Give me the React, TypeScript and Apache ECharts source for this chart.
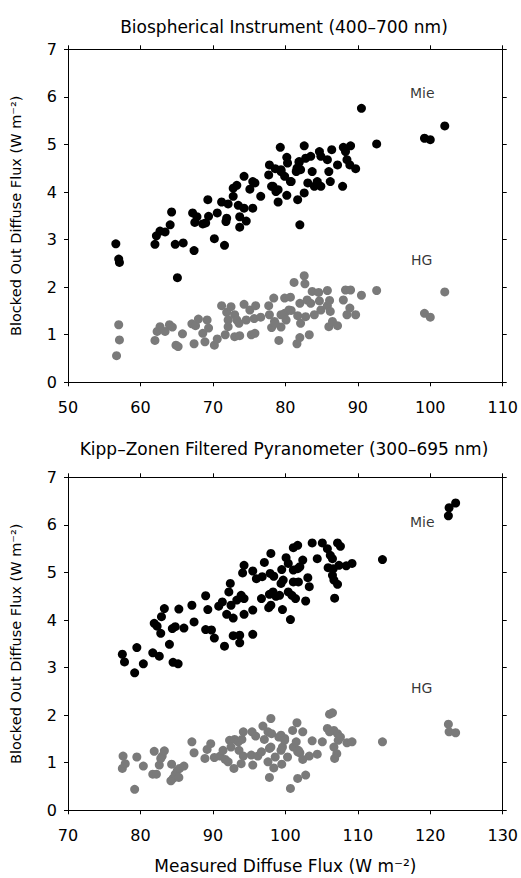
import { useEffect, useRef } from 'react';
import * as echarts from 'echarts';

const FONT = 'DejaVu Sans';

const titles = ['Biospherical Instrument (400–700 nm)', 'Kipp–Zonen Filtered Pyranometer (300–695 nm)'];
const yName = 'Blocked Out Diffuse Flux (W m⁻²)';
const xName = 'Measured Diffuse Flux (W m⁻²)';
const topXRange = [50, 110];
const bottomXRange = [70, 130];
const yRange = [0, 7];

const bioMie: number[][] = [
  [56.6, 2.91], [57.0, 2.59], [57.1, 2.52], [62.0, 2.90], [62.2, 3.08], [62.7, 3.18], [63.4, 3.16], [64.1, 3.31],
  [64.3, 3.58], [64.8, 2.90], [65.1, 2.20], [65.9, 2.93], [67.2, 3.56], [67.4, 2.77], [67.5, 3.36], [67.8, 3.48],
  [68.6, 3.33], [69.0, 3.35], [69.3, 3.84], [69.4, 3.49], [70.2, 3.02], [70.6, 3.56], [71.2, 3.79], [71.6, 2.88],
  [71.8, 3.38], [71.9, 3.45], [72.1, 3.75], [72.8, 3.91], [72.8, 4.08], [73.3, 4.14], [73.5, 3.72], [73.7, 3.26],
  [73.7, 3.48], [74.3, 4.33], [74.3, 3.66], [74.6, 3.39], [75.1, 4.06], [75.5, 4.22], [75.5, 3.66], [75.8, 4.19],
  [76.6, 3.91], [77.7, 4.36], [77.8, 4.57], [78.1, 4.12], [78.3, 4.12], [78.6, 4.49], [78.7, 4.01], [79.0, 4.05],
  [79.0, 3.79], [79.3, 4.94], [79.4, 4.43], [79.4, 4.47], [79.9, 4.33], [80.2, 4.73], [80.2, 3.93], [80.3, 4.61],
  [80.7, 4.22], [80.8, 4.22], [81.5, 4.43], [81.6, 4.50], [81.7, 3.84], [81.9, 4.64], [81.9, 4.62], [82.0, 3.31],
  [82.1, 4.47], [82.6, 4.97], [82.6, 3.98], [82.8, 4.71], [83.1, 4.19], [83.5, 4.75], [83.7, 4.43], [84.0, 4.12],
  [84.4, 4.22], [84.7, 4.85], [84.9, 4.75], [84.9, 4.12], [85.8, 4.68], [86.0, 4.43], [86.2, 4.22], [86.4, 4.89],
  [87.2, 4.57], [87.9, 4.12], [88.0, 4.94], [88.3, 4.85], [88.5, 4.68], [88.9, 4.57], [89.0, 4.97], [89.7, 4.49],
  [90.5, 5.76], [92.6, 5.01], [99.2, 5.13], [100.0, 5.10], [102.0, 5.39],
];

const bioHG: number[][] = [
  [56.7, 0.56], [57.0, 1.21], [57.1, 0.89], [62.0, 0.88], [62.3, 1.07], [62.7, 1.17], [63.4, 1.07], [64.0, 1.21],
  [64.4, 1.16], [64.9, 0.78], [65.2, 0.75], [65.8, 1.02], [67.1, 1.23], [67.4, 0.81], [67.6, 1.19], [68.0, 1.33],
  [68.6, 1.03], [68.9, 0.85], [69.2, 1.31], [69.4, 1.14], [70.2, 0.78], [70.6, 0.91], [71.2, 1.61], [71.7, 1.00],
  [71.9, 1.47], [72.1, 1.31], [72.1, 1.17], [72.5, 1.59], [73.0, 1.42], [73.0, 0.96], [73.3, 1.31], [73.6, 1.24],
  [73.7, 0.98], [74.3, 1.64], [74.6, 1.31], [75.1, 1.52], [75.3, 1.00], [75.7, 1.34], [75.8, 1.03], [75.9, 1.61],
  [76.6, 1.37], [77.7, 1.61], [77.8, 1.42], [78.1, 1.15], [78.4, 1.77], [78.5, 1.28], [78.6, 1.24], [79.1, 0.88],
  [79.4, 1.16], [79.4, 1.42], [79.9, 1.77], [79.9, 1.45], [80.1, 1.31], [80.5, 1.52], [80.7, 1.79], [80.8, 1.51],
  [81.2, 2.10], [81.6, 0.81], [81.7, 1.40], [82.0, 0.94], [82.0, 1.66], [82.1, 1.24], [82.6, 2.24], [82.7, 2.07],
  [82.8, 1.38], [83.0, 1.73], [83.3, 1.00], [83.5, 1.66], [83.7, 1.91], [84.0, 1.42], [84.6, 1.89], [84.7, 1.71],
  [84.9, 1.52], [85.8, 1.93], [85.8, 1.61], [86.0, 1.17], [86.1, 1.72], [86.2, 1.49], [86.5, 1.28], [87.2, 1.19],
  [88.0, 1.73], [88.3, 1.94], [88.5, 1.42], [88.9, 1.56], [89.0, 1.94], [89.7, 1.42], [90.5, 1.83], [92.6, 1.93],
  [99.2, 1.45], [100.0, 1.37], [102.0, 1.90],
];

const kippMie: number[][] = [
  [77.5, 3.28], [77.8, 3.12], [79.2, 2.89], [79.5, 3.42], [80.4, 3.08], [81.7, 3.31], [81.9, 3.93], [82.3, 3.87],
  [82.6, 3.24], [82.8, 3.72], [82.9, 4.07], [83.3, 4.24], [84.0, 3.49], [84.4, 3.82], [84.5, 3.11], [84.8, 3.86],
  [85.2, 3.08], [85.3, 4.23], [86.0, 3.83], [87.1, 4.31], [87.4, 3.96], [89.0, 4.51], [89.0, 3.80], [89.3, 4.22],
  [89.8, 3.79], [90.2, 3.62], [90.8, 4.29], [91.3, 4.38], [91.6, 3.45], [91.9, 4.12], [92.2, 4.59], [92.4, 4.77],
  [92.5, 4.31], [92.8, 4.04], [92.8, 3.67], [93.3, 4.42], [93.7, 3.68], [93.7, 3.52], [93.9, 4.52], [94.1, 4.99],
  [94.3, 4.45], [94.3, 4.12], [94.3, 5.15], [95.5, 4.21], [95.5, 3.70], [95.5, 5.03], [96.0, 4.87], [96.7, 4.45],
  [96.8, 4.91], [97.1, 5.21], [97.7, 4.26], [97.8, 4.54], [97.9, 4.98], [98.0, 5.40], [98.0, 4.31], [98.3, 4.59],
  [98.4, 4.92], [98.7, 4.50], [99.2, 4.52], [99.4, 4.77], [99.5, 5.06], [99.6, 4.22], [99.7, 4.84], [100.1, 5.31],
  [100.4, 5.19], [100.4, 4.59], [100.7, 4.01], [100.9, 4.52], [101.1, 5.05], [101.1, 4.80], [101.1, 5.52], [101.4, 4.45],
  [101.7, 5.57], [101.7, 5.08], [101.8, 4.80], [102.0, 5.12], [102.4, 5.26], [102.8, 4.40], [103.1, 4.89], [103.3, 4.70],
  [103.7, 5.62], [104.4, 5.29], [105.1, 5.62], [105.8, 5.50], [105.9, 5.10], [106.2, 5.36], [106.5, 5.29], [106.5, 4.94],
  [106.6, 5.08], [106.7, 4.84], [106.8, 4.46], [107.2, 5.62], [107.2, 4.75], [107.4, 5.15], [107.6, 5.55], [108.4, 5.14],
  [109.2, 5.19], [113.4, 5.27], [122.5, 6.19], [122.6, 6.36], [123.5, 6.46],
];

const kippHG: number[][] = [
  [77.5, 0.88], [77.6, 1.14], [77.9, 0.98], [79.2, 0.44], [79.5, 1.12], [80.4, 0.93], [81.7, 0.76], [81.9, 1.24],
  [82.2, 0.76], [82.6, 0.95], [82.8, 1.09], [83.0, 1.14], [83.3, 1.25], [84.2, 0.62], [84.3, 0.97], [84.5, 0.67],
  [84.8, 0.76], [85.1, 0.84], [85.3, 0.69], [85.4, 0.88], [86.0, 0.93], [87.1, 1.44], [87.4, 1.21], [88.9, 1.09],
  [89.2, 1.28], [89.7, 1.40], [90.2, 1.11], [91.0, 1.14], [91.4, 1.26], [91.7, 1.07], [92.1, 1.02], [92.3, 1.47],
  [92.5, 1.33], [92.9, 0.88], [93.0, 1.49], [93.5, 1.44], [93.6, 1.26], [93.9, 0.98], [94.0, 1.49], [94.2, 1.65],
  [94.2, 1.14], [95.3, 1.16], [95.4, 1.65], [95.5, 0.95], [95.9, 1.56], [96.2, 1.14], [96.7, 1.23], [96.9, 1.77],
  [97.1, 1.49], [97.6, 1.02], [97.6, 1.65], [97.8, 0.69], [97.8, 1.30], [98.0, 1.33], [98.0, 1.93], [98.1, 1.61],
  [98.4, 0.89], [98.6, 1.12], [99.1, 1.54], [99.4, 1.26], [99.4, 1.58], [99.5, 0.97], [99.6, 1.33], [99.9, 1.51],
  [99.9, 1.47], [100.3, 1.12], [100.7, 0.46], [101.0, 1.68], [101.1, 1.33], [101.5, 1.44], [101.6, 1.84], [101.7, 0.67],
  [101.7, 1.23], [101.8, 1.26], [102.0, 1.21], [102.4, 1.65], [102.4, 1.07], [102.8, 0.74], [103.3, 1.14], [103.7, 1.46],
  [104.4, 1.18], [105.1, 1.44], [105.8, 1.72], [106.1, 2.02], [106.5, 2.05], [106.1, 1.65], [106.7, 1.68], [107.2, 1.61],
  [107.3, 1.47], [107.6, 1.54], [106.7, 1.33], [107.1, 1.19], [106.8, 1.09], [108.5, 1.42], [109.2, 1.44], [113.4, 1.44],
  [122.5, 1.81], [122.6, 1.65], [123.5, 1.63],
];

// annotation text positions in data coordinates
const seriesLabels = [
  { text: 'Mie', panel: 0, at: [98.9, 6.08] },
  { text: 'HG', panel: 0, at: [98.8, 2.57] },
  { text: 'Mie', panel: 1, at: [118.9, 6.06] },
  { text: 'HG', panel: 1, at: [118.8, 2.58] },
];

const BLACK = '#000';
const GRAY = '#7a7a7a';

export default function App() {
  const ref = useRef<HTMLDivElement>(null);
  useEffect(() => {
    const chart = echarts.init(ref.current!, null, { renderer: 'svg' });
    const gridTops = [49.3, 477.3];
    const gridH = 333;
    const ranges = [topXRange, bottomXRange];
    const lineStyle = { color: BLACK, width: 1 };
    const xAxes: any[] = [];
    const yAxes: any[] = [];
    [0, 1].forEach((g) => {
      xAxes.push({
        type: 'value', gridIndex: g, position: 'bottom', min: ranges[g][0], max: ranges[g][1], interval: 10,
        axisLine: { show: true, onZero: false, lineStyle },
        axisTick: { show: true, inside: false, length: 4, lineStyle },
        axisLabel: { show: true, color: BLACK, fontFamily: FONT, fontSize: 16, margin: 17 },
        splitLine: { show: false },
        name: g === 1 ? xName : '', nameLocation: 'middle', nameGap: 47,
        nameTextStyle: { color: BLACK, fontFamily: FONT, fontSize: 17 },
      });
      xAxes.push({
        type: 'value', gridIndex: g, position: 'top', min: ranges[g][0], max: ranges[g][1], interval: 10,
        axisLine: { show: true, onZero: false, lineStyle },
        axisTick: { show: true, inside: false, length: 4, lineStyle },
        axisLabel: { show: false }, splitLine: { show: false },
      });
      yAxes.push({
        type: 'value', gridIndex: g, position: 'left', min: yRange[0], max: yRange[1], interval: 1,
        axisLine: { show: true, onZero: false, lineStyle },
        axisTick: { show: true, inside: false, length: 4, lineStyle },
        axisLabel: { show: true, color: BLACK, fontFamily: FONT, fontSize: 16, margin: 11 },
        splitLine: { show: false },
        name: yName, nameLocation: 'middle', nameGap: 45,
        nameTextStyle: { color: BLACK, fontFamily: FONT, fontSize: 14.5 },
      });
      yAxes.push({
        type: 'value', gridIndex: g, position: 'right', min: yRange[0], max: yRange[1], interval: 1,
        axisLine: { show: true, onZero: false, lineStyle },
        axisTick: { show: true, inside: false, length: 4, lineStyle },
        axisLabel: { show: false }, splitLine: { show: false },
      });
    });

    const mk = (data: number[][], g: number, color: string) => ({
      type: 'scatter', xAxisIndex: g * 2, yAxisIndex: g * 2, data, symbol: 'circle', symbolSize: 9,
      itemStyle: { color, opacity: 1 }, silent: true,
    });

    const labelSeries = [0, 1].map((g) => ({
      type: 'scatter', xAxisIndex: g * 2, yAxisIndex: g * 2, symbolSize: 1, silent: true,
      itemStyle: { color: 'rgba(0,0,0,0)' },
      data: seriesLabels.filter((l) => l.panel === g).map((l) => ({ value: l.at, name: l.text })),
      label: {
        show: true, position: 'inside', formatter: '{b}',
        color: BLACK, fontFamily: FONT, fontSize: 14, textBorderWidth: 0,
      },
    }));

    chart.setOption({
      animation: false,
      backgroundColor: '#fff',
      title: titles.map((t, i) => ({
        text: t, left: 284, top: i === 0 ? 18 : 440, textAlign: 'center', padding: 0,
        textStyle: { color: BLACK, fontFamily: FONT, fontSize: 17, fontWeight: 'normal' },
      })),
      grid: gridTops.map((top) => ({ left: 64.7, right: 17.7, top, height: gridH, containLabel: false })),
      xAxis: xAxes,
      yAxis: yAxes,
      series: [
        mk(bioHG, 0, GRAY), mk(bioMie, 0, BLACK),
        mk(kippHG, 1, GRAY), mk(kippMie, 1, BLACK),
        ...labelSeries,
      ],
    });
    return () => chart.dispose();
  }, []);
  return <div ref={ref} style={{ position: 'fixed', left: 0, top: 0, width: 521, height: 878, background: '#fff' }} />;
}
